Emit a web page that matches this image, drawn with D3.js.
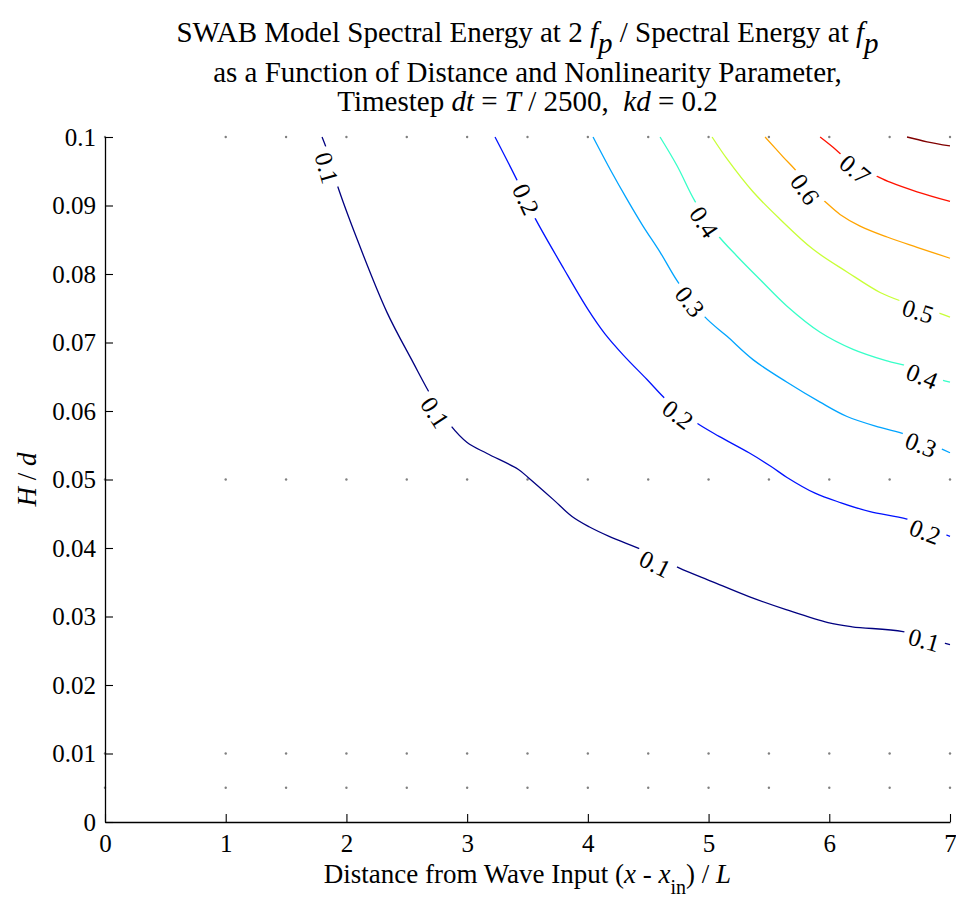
<!DOCTYPE html>
<html>
<head>
<meta charset="utf-8">
<script src="https://cdn.jsdelivr.net/npm/d3@7"></script>
<style>
  html, body { margin: 0; padding: 0; background: #fff; }
  svg { display: block; }
  text { font-family: "Liberation Serif", "Times New Roman", serif; fill: #000; }
</style>
</head>
<body>
<svg id="chart" width="956" height="906"></svg>
<script>
// ---------------- data ----------------
const xTicks = [0, 1, 2, 3, 4, 5, 6, 7];
const yTicks = [0, 0.01, 0.02, 0.03, 0.04, 0.05, 0.06, 0.07, 0.08, 0.09, 0.1];
const yTickLabels = ["0", "0.01", "0.02", "0.03", "0.04", "0.05", "0.06", "0.07", "0.08", "0.09", "0.1"];

// sample grid locations (grey dots)
const gridX = [0, 1, 1.5, 2, 2.5, 3, 3.5, 4, 4.5, 5, 5.5, 6, 6.5, 7];
const gridY = [0.005, 0.01, 0.05, 0.1];

const levels = [0.1, 0.2, 0.3, 0.4, 0.5, 0.6, 0.7, 0.8];

const contour01 = [[1.798,0.1000],[1.847,0.0977],[1.922,0.0931],[2.088,0.0851],[2.336,0.0744],[2.552,0.0671],
  [2.709,0.0620],[2.858,0.0580],[3.000,0.0554],[3.165,0.0538],[3.422,0.0515],[3.505,0.0503],[3.712,0.0471],
  [3.869,0.0446],[4.010,0.0431],[4.176,0.0417],[4.482,0.0395],[4.755,0.0371],[5.029,0.0351],[5.335,0.0329],
  [5.642,0.0310],[5.990,0.0291],[6.189,0.0285],[6.611,0.0278],[6.918,0.0263],[7.000,0.0259]];
const contour02 = [[3.231,0.1000],[3.430,0.0931],[3.546,0.0887],[3.803,0.0807],[4.002,0.0748],[4.140,0.0713],
  [4.292,0.0682],[4.490,0.0646],[4.664,0.0614],[4.905,0.0582],[5.087,0.0563],[5.335,0.0539],[5.518,0.0519],
  [5.650,0.0503],[5.882,0.0480],[6.098,0.0466],[6.338,0.0453],[6.644,0.0442],[6.918,0.0423],[7.000,0.0417]];
const contour03 = [[4.043,0.1000],[4.184,0.0953],[4.325,0.0909],[4.457,0.0870],[4.598,0.0832],[4.747,0.0788],
  [4.971,0.0737],[5.153,0.0709],[5.368,0.0675],[5.650,0.0642],[5.924,0.0613],[6.147,0.0592],[6.421,0.0576],
  [6.628,0.0566],[6.901,0.0547],[7.000,0.0539]];
const contour04 = [[4.598,0.1000],[4.739,0.0958],[4.888,0.0906],[5.070,0.0858],[5.236,0.0826],[5.426,0.0792],
  [5.650,0.0753],[5.924,0.0715],[6.197,0.0690],[6.479,0.0673],[6.653,0.0665],[6.918,0.0646],[7.000,0.0642]];
const contour05 = [[5.029,0.1000],[5.153,0.0968],[5.368,0.0920],[5.592,0.0880],[5.866,0.0836],[6.147,0.0803],
  [6.421,0.0773],[6.603,0.0760],[6.893,0.0744],[7.000,0.0737]];
const contour06 = [[5.468,0.1000],[5.617,0.0971],[5.733,0.0949],[5.830,0.0925],[5.924,0.0912],[6.089,0.0887],
  [6.255,0.0870],[6.479,0.0854],[6.727,0.0839],[7.000,0.0823]];
const contour07 = [[5.924,0.1000],[6.031,0.0985],[6.114,0.0972],[6.230,0.0955],[6.354,0.0946],[6.503,0.0934],
  [6.727,0.0920],[7.000,0.0906]];
const contour08 = [[6.644,0.1000],[6.810,0.0993],[7.000,0.0987]];

// inline label positions for each level
const labels01 = [[1.838,0.0955],[2.734,0.0598],[4.557,0.0377],[6.785,0.0266]];
const labels02 = [[3.488,0.0909],[4.747,0.0595],[6.794,0.0424]];
const labels03 = [[4.847,0.0760],[6.760,0.0551]];
const labels04 = [[4.963,0.0876],[6.769,0.0651]];
const labels05 = [[6.736,0.0746]];
const labels06 = [[5.800,0.0924]];
const labels07 = [[6.214,0.0953]];
const labels08 = [];

const contourLines = [contour01, contour02, contour03, contour04, contour05, contour06, contour07, contour08];
const contourLabels = [labels01, labels02, labels03, labels04, labels05, labels06, labels07, labels08];

// ---------------- layout ----------------
const svg = d3.select("#chart");
const M = { left: 105, right: 950, top: 137, bottom: 822 };
const x = d3.scaleLinear().domain([0, 7]).range([M.left, M.right]);
const y = d3.scaleLinear().domain([0, 0.1]).range([M.bottom, M.top]);

// jet colormap
function jet(t) {
  const clamp = v => Math.max(0, Math.min(1, v));
  const r = clamp(Math.min(4 * t - 1.5, -4 * t + 4.5));
  const g = clamp(Math.min(4 * t - 0.5, -4 * t + 3.5));
  const b = clamp(Math.min(4 * t + 0.5, -4 * t + 2.5));
  return d3.rgb(r * 255, g * 255, b * 255).formatHex();
}
const color = d3.scaleLinear().domain([d3.min(levels), d3.max(levels)]).range([0, 1]);

// grid dots
const dots = [];
gridY.forEach(gy => gridX.forEach(gx => dots.push([gx, gy])));
svg.append("g").selectAll("circle").data(dots).join("circle")
  .attr("cx", d => x(d[0])).attr("cy", d => y(d[1]))
  .attr("r", 1.2).attr("fill", "#808080");

const labelFont = 25;
const defs = svg.append("defs");
const line = d3.line().x(d => x(d[0])).y(d => y(d[1])).curve(d3.curveCatmullRom.alpha(0.5));

function labelAngle(pts, lp) {
  let best = null, bd = Infinity;
  for (let i = 0; i < pts.length - 1; i++) {
    const ax = x(pts[i][0]), ay = y(pts[i][1]), bx = x(pts[i+1][0]), by = y(pts[i+1][1]);
    const px = x(lp[0]), py = y(lp[1]);
    const dx = bx - ax, dy = by - ay;
    let t = ((px - ax) * dx + (py - ay) * dy) / (dx * dx + dy * dy);
    t = Math.max(0, Math.min(1, t));
    const qx = ax + t * dx, qy = ay + t * dy;
    const d = (qx - px) ** 2 + (qy - py) ** 2;
    if (d < bd) { bd = d; best = [dx, dy]; }
  }
  let a = Math.atan2(best[1], best[0]) * 180 / Math.PI;
  if (a > 90) a -= 180;
  if (a <= -90) a += 180;
  return a;
}

const gLines = svg.append("g");
const gLabels = svg.append("g");
levels.forEach((lev, i) => {
  const pts = contourLines[i];
  const labs = contourLabels[i];
  const txt = d3.format(".1f")(lev);
  const mask = defs.append("mask").attr("id", "m" + i).attr("maskUnits", "userSpaceOnUse")
    .attr("x", 0).attr("y", 0).attr("width", 956).attr("height", 906);
  mask.append("rect").attr("x", 0).attr("y", 0).attr("width", 956).attr("height", 906).attr("fill", "#fff");
  labs.forEach(lp => {
    const a = labelAngle(pts, lp);
    mask.append("rect")
      .attr("x", -21).attr("y", -10).attr("width", 42).attr("height", 20)
      .attr("fill", "#000")
      .attr("transform", `translate(${x(lp[0])},${y(lp[1])}) rotate(${a})`);
    gLabels.append("text")
      .attr("transform", `translate(${x(lp[0])},${y(lp[1])}) rotate(${a})`)
      .attr("text-anchor", "middle").attr("dy", "0.35em")
      .style("font-size", labelFont + "px")
      .text(txt);
  });
  gLines.append("path")
    .attr("d", line(pts))
    .attr("fill", "none")
    .attr("stroke", jet(color(lev)))
    .attr("stroke-width", 1.3)
    .attr("mask", labs.length ? `url(#m${i})` : null);
});

// axes
const xAxis = d3.axisBottom(x).tickValues(xTicks).tickSizeInner(-8).tickSizeOuter(0).tickPadding(12)
  .tickFormat(d3.format("d"));
const gx = svg.append("g").attr("transform", `translate(0,${M.bottom})`).call(xAxis);
gx.selectAll("text").style("font-size", "25px").attr("dy", "0.71em");

const yAxis = d3.axisLeft(y).tickValues(yTicks).tickSizeInner(-8).tickSizeOuter(0).tickPadding(9)
  .tickFormat((d, i) => yTickLabels[i]);
const gy = svg.append("g").attr("transform", `translate(${M.left},0)`).call(yAxis);
gy.selectAll("text").style("font-size", "25px");

[gx, gy].forEach(g => {
  g.select(".domain").attr("stroke", "#000").attr("stroke-width", 1.3);
  g.selectAll(".tick line").attr("stroke", "#000").attr("stroke-width", 1.1);
  g.selectAll("text").attr("fill", "#000").style("font-family", '"Liberation Serif", serif');
});

// x label
const xl = svg.append("text").attr("x", (M.left + M.right) / 2).attr("y", 883)
  .attr("text-anchor", "middle").style("font-size", "27px");
xl.append("tspan").text("Distance from Wave Input (");
xl.append("tspan").style("font-style", "italic").text("x");
xl.append("tspan").text(" - ");
xl.append("tspan").style("font-style", "italic").text("x");
xl.append("tspan").attr("dy", 11).style("font-size", "20px").text("in");
xl.append("tspan").attr("dy", -11).text(") / ");
xl.append("tspan").style("font-style", "italic").text("L");

// y label
const yl = svg.append("text").attr("transform", `translate(36,${(M.top + M.bottom) / 2}) rotate(-90)`)
  .attr("text-anchor", "middle").style("font-size", "27px");
yl.append("tspan").style("font-style", "italic").text("H");
yl.append("tspan").text(" / ");
yl.append("tspan").style("font-style", "italic").text("d");

// title
const cx = (M.left + M.right) / 2;
const t1 = svg.append("text").attr("x", cx).attr("y", 42).attr("text-anchor", "middle").style("font-size", "29px");
t1.append("tspan").text("SWAB Model Spectral Energy at 2 ");
t1.append("tspan").style("font-style", "italic").text("f");
t1.append("tspan").attr("dy", 11).style("font-style", "italic").text("p");
t1.append("tspan").attr("dy", -11).text(" / Spectral Energy at ");
t1.append("tspan").style("font-style", "italic").text("f");
t1.append("tspan").attr("dy", 11).style("font-style", "italic").text("p");

svg.append("text").attr("x", cx).attr("y", 82).attr("text-anchor", "middle").style("font-size", "29px")
  .text("as a Function of Distance and Nonlinearity Parameter,");

const t3 = svg.append("text").attr("x", cx).attr("y", 111).attr("text-anchor", "middle").style("font-size", "29px");
t3.append("tspan").text("Timestep ");
t3.append("tspan").style("font-style", "italic").text("dt");
t3.append("tspan").text(" = ");
t3.append("tspan").style("font-style", "italic").text("T");
t3.append("tspan").text(" / 2500,\u00A0\u00A0");
t3.append("tspan").style("font-style", "italic").text("kd");
t3.append("tspan").text(" = 0.2");
</script>
</body>
</html>
